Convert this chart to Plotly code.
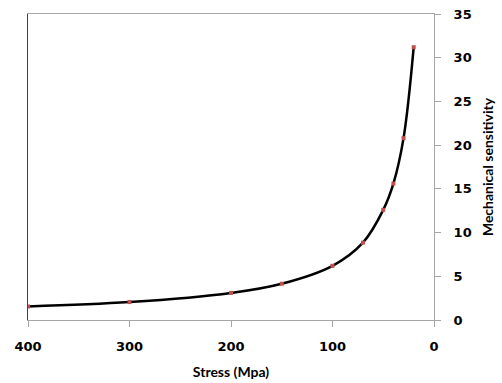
import plotly.graph_objects as go

stress = [400, 300, 200, 150, 100, 70, 50, 40, 30, 20]
sensitivity = [1.55, 2.05, 3.1, 4.15, 6.2, 8.85, 12.6, 15.6, 20.8, 31.2]

x_ticks = [400, 300, 200, 100, 0]
y_ticks = [0, 5, 10, 15, 20, 25, 30, 35]

fig = go.Figure()
fig.add_trace(go.Scatter(
    x=stress, y=sensitivity, mode="lines+markers",
    line=dict(color="black", width=2.5, shape="spline", smoothing=1.0),
    marker=dict(symbol="square", size=4, color="#c0504d"),
    showlegend=False,
))
# invisible trace for left border axis
fig.add_trace(go.Scatter(x=[stress[0]], y=[sensitivity[0]], yaxis="y2",
                         mode="markers", marker=dict(opacity=0),
                         showlegend=False, hoverinfo="skip"))

tickfont = dict(family="DejaVu Sans", size=13, color="black", weight="bold")
titlefont = dict(family="Lato", size=14, color="black", weight="bold")

fig.update_layout(
    width=502, height=383,
    margin=dict(l=27.5, r=68, t=14, b=63, autoexpand=False),
    paper_bgcolor="white", plot_bgcolor="white",
    xaxis=dict(
        range=[400, 0], tickvals=x_ticks, showgrid=False, zeroline=False,
        showline=True, linecolor="#a6a6a6", linewidth=1, mirror=True,
        ticks="outside", ticklen=6, tickcolor="#a6a6a6", automargin=False,
        tickfont=tickfont, ticklabelstandoff=8,
        title=dict(text="Stress (Mpa)", font=titlefont, standoff=14),
    ),
    yaxis=dict(
        range=[0, 35], tickvals=y_ticks, side="right", showgrid=False,
        zeroline=False, showline=True, linecolor="#a6a6a6", linewidth=1,
        mirror=True, ticks="outside", ticklen=6, tickcolor="#a6a6a6",
        automargin=False,
        tickfont=tickfont, ticklabelstandoff=10,
        title=dict(text="Mechanical sensitivity", font=titlefont, standoff=12),
    ),
    yaxis2=dict(
        range=[0, 35], overlaying="y", side="left", showline=True,
        linecolor="#404040", linewidth=1.2, showgrid=False, zeroline=False,
        showticklabels=False, ticks="", automargin=False,
    ),
)

fig.write_html("out.html")
